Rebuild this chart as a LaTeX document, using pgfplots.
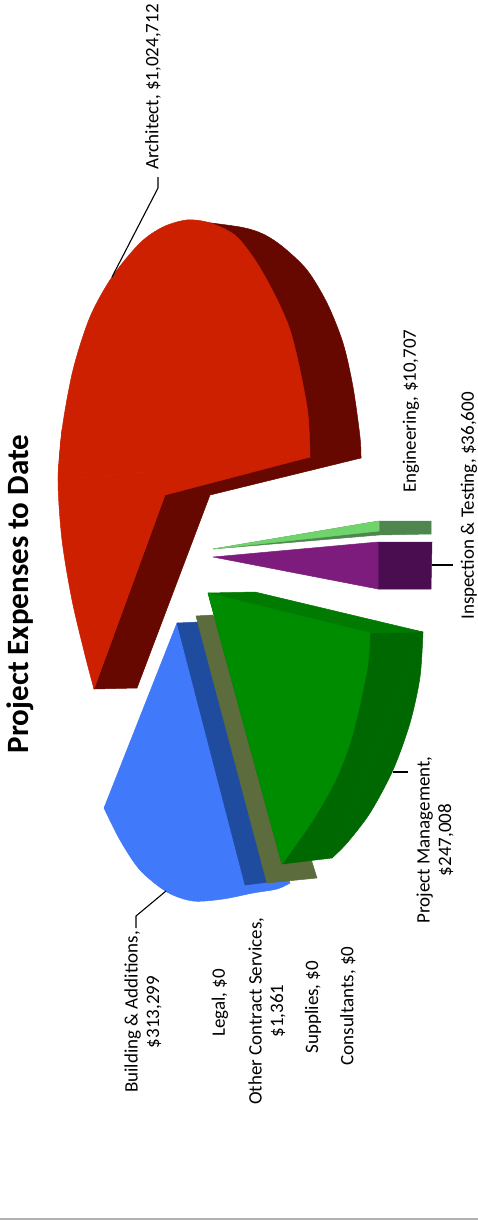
\documentclass[border=0pt]{standalone}
\usepackage{fontspec}
\setmainfont{Carlito}
\usepackage{pgfplots}
\pgfplotsset{compat=1.18}

\definecolor{redtop}{RGB}{204,32,0}
\definecolor{redside}{RGB}{102,8,0}
\definecolor{greentop}{RGB}{0,140,0}
\definecolor{greenedge}{RGB}{0,122,0}
\definecolor{greenside}{RGB}{0,104,0}
\definecolor{bluetop}{RGB}{64,122,250}
\definecolor{blueside}{RGB}{32,76,160}
\definecolor{olive}{RGB}{92,108,60}
\definecolor{purpletop}{RGB}{125,28,125}
\definecolor{purpleside}{RGB}{74,14,80}
\definecolor{limetop}{RGB}{112,212,108}
\definecolor{limeside}{RGB}{78,134,78}

\tikzset{
  lbl/.style={rotate=90, anchor=center, align=center, font=\fontsize{19}{21.5}\selectfont, text=black},
  face/.style={fill=#1, draw=#1, line width=0.5pt, line join=round},
}

\begin{document}
\begin{tikzpicture}
\useasboundingbox (0,0) rectangle (478pt,1220pt);
\begin{axis}[
    scale only axis,
    width=478pt, height=1220pt,
    xmin=0, xmax=478,
    ymin=0, ymax=1220,
    y dir=reverse,
    hide axis,
    clip=false,
    every axis plot/.append style={no markers},
]
% each curved rim is a smooth plot closed by its chord, the rest of the face a polygon
% architect
\addplot[smooth, face=redside] coordinates {
    (187,220) (240,227) (263,234) (283,247) (307,270)
    (327,303) (343,343) (353,387) (360,437) (361,458)
} --cycle;
\addplot[face=redside] coordinates {(187,220) (361,458) (210,495) (137,688) (94,689) (165,495)} --cycle;
\addplot[smooth, face=redtop] coordinates {
    (310,457) (307,407) (290,330) (263,273)
    (237,237) (210,223) (187,220) (163,227) (140,243)
    (112,277) (90,317) (73,370) (62,430) (58,480)
} --cycle;
\addplot[smooth, face=redtop] coordinates {
    (62,430) (58,480) (62,540) (72,600) (85,655) (94,689)
} --cycle;
\addplot[face=redtop] coordinates {(310,457) (58,480) (94,689) (165,495)} --cycle;
\addplot[black, line width=1.1pt] coordinates {(158,177) (158,188) (112,277)};

% building and additions
\addplot[smooth, face=bluetop] coordinates {
    (104,808) (120,840) (140,870) (167,892)
    (193,901) (223,899) (253,893) (277,889) (290,883)
} --cycle;
\addplot[face=bluetop] coordinates {(177,623) (104,808) (290,883)} --cycle;
\addplot[face=blueside] coordinates {(177,623) (200,622) (270,882) (245,885)} --cycle;
\addplot[black, line width=1.1pt] coordinates {(166,891) (136,916) (136,928)};

% other contract services
\addplot[face=olive] coordinates {(196,616) (213,615) (312,862) (317,878) (267,883)} --cycle;

% project management
\addplot[smooth, face=greenside] coordinates {
    (423,632) (420,677) (410,723) (393,770) (370,813) (347,843) (332,858)
} --cycle;
\addplot[face=greenside] coordinates {(208,593) (423,632) (332,858) (282,864)} --cycle;
\addplot[face=greenedge] coordinates {(208,593) (255,592) (423,632) (370,633)} --cycle;
\addplot[smooth, face=greentop] coordinates {
    (370,633) (367,670) (353,733) (337,777) (313,820) (282,864)
} --cycle;
\addplot[face=greentop] coordinates {(208,593) (370,633) (282,864)} --cycle;
\addplot[black, line width=1.1pt] coordinates {(393,772) (408,772)};

% inspection and testing
\addplot[face=purpleside] coordinates {(378,542) (432,542) (431,589) (378,589)} --cycle;
\addplot[face=purpletop] coordinates {(213,557) (378,542) (378,589)} --cycle;
\addplot[black, line width=1.1pt] coordinates {(432,565) (453,565)};

% engineering
\addplot[face=limeside] coordinates {(379,521) (431,521) (431,534) (379,535) (213,549)} --cycle;
\addplot[face=limetop] coordinates {(213,549) (379,521) (379,531)} --cycle;

% frame line at the foot
\addplot[color=black!30, line width=1.4pt] coordinates {(0,1219) (478,1219)};

\node[rotate=90, font=\fontsize{31}{34}\selectfont\bfseries] at (axis cs:20,594) {Project Expenses to Date};
\node[lbl] at (axis cs:153,87) {Architect, \$1,024,712};
\node[lbl] at (axis cs:411,411) {Engineering, \$10,707};
\node[lbl] at (axis cs:469,506) {Inspection \& Testing, \$36,600};
\node[lbl] at (axis cs:435,840) {Project Management,\\\$247,008};
\node[lbl] at (axis cs:143,1012) {Building \& Additions,\\\$313,299};
\node[lbl] at (axis cs:220,1003) {Legal, \$0};
\node[lbl] at (axis cs:267,1011) {Other Contract Services,\\\$1,361};
\node[lbl] at (axis cs:313,1007) {Supplies, \$0};
\node[lbl] at (axis cs:348,1006) {Consultants, \$0};
\end{axis}
\end{tikzpicture}
\end{document}
